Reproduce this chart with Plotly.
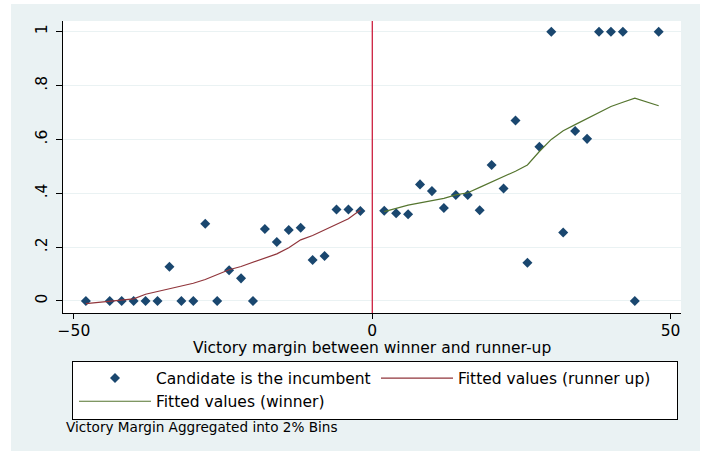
import plotly.graph_objects as go

# ---- data ----
bins_runner = [-48, -44, -42, -40, -38, -36, -34, -32, -30, -28, -26, -24,
               -22, -20, -18, -16, -14, -12, -10, -8, -6, -4, -2]
share_runner = [0.0, 0.0, 0.0, 0.0, 0.0, 0.0, 0.127, 0.0, 0.0, 0.287, 0.0, 0.114,
                0.084, 0.0, 0.267, 0.219, 0.264, 0.272, 0.152, 0.167, 0.340, 0.340, 0.334]
fit_runner = [-0.010, -0.002, 0.002, 0.008, 0.025, 0.035, 0.045, 0.055, 0.066, 0.080, 0.098, 0.116,
              0.128, 0.143, 0.158, 0.175, 0.198, 0.227, 0.243, 0.263, 0.283, 0.305, 0.338]

bins_winner = [2, 4, 6, 8, 10, 12, 14, 16, 18, 20, 22, 24, 26, 28, 30, 32, 34, 36,
               38, 40, 42, 44, 48]
share_winner = [0.335, 0.326, 0.322, 0.433, 0.408, 0.345, 0.394, 0.394, 0.337, 0.505,
                0.418, 0.670, 0.142, 0.573, 1.0, 0.254, 0.631, 0.602, 1.0, 1.0, 1.0, 0.0, 1.0]
fit_winner = [0.332, 0.345, 0.356, 0.364, 0.372, 0.381, 0.394, 0.402, 0.422, 0.442,
              0.461, 0.482, 0.505, 0.555, 0.600, 0.632, 0.655, 0.678, 0.700, 0.722, 0.738, 0.753, 0.725]

x_ticks = [-50, 0, 50]
y_ticks = [0, 0.2, 0.4, 0.6, 0.8, 1]
y_ticktext = ["0", ".2", ".4", ".6", ".8", "1"]

NAVY = "#1A476F"
MAROON = "#90353B"
GREEN = "#55752F"
BG = "#EAF2F3"
FONT = "DejaVu Sans"

fig = go.Figure()
fig.add_trace(go.Scatter(
    x=bins_runner + bins_winner, y=share_runner + share_winner,
    mode="markers", name="Candidate is the incumbent",
    marker=dict(symbol="diamond", size=7.7, color=NAVY, line=dict(width=0))))
fig.add_trace(go.Scatter(
    x=bins_runner, y=fit_runner, mode="lines", name="Fitted values (runner up)",
    line=dict(color=MAROON, width=1.2)))
fig.add_trace(go.Scatter(
    x=bins_winner, y=fit_winner, mode="lines", name="Fitted values (winner)",
    line=dict(color=GREEN, width=1.2)))

L, R, T, B = 63, 24, 21, 138
W, H = 705, 451
pw, ph = W - L - R, H - T - B
def px2x(px):
    return (px - L) / pw
def py2y(py):
    return (H - B - py) / ph

fig.update_layout(
    width=W, height=H,
    margin=dict(l=L, r=R, t=T, b=B, pad=0, autoexpand=False),
    paper_bgcolor="white", plot_bgcolor="white",
    font=dict(family=FONT, size=15.5, color="black"),
    showlegend=True,
    legend=dict(
        orientation="h", x=px2x(72), y=py2y(360.5), xanchor="left", yanchor="top",
        bordercolor="black", borderwidth=1, bgcolor="white",
        entrywidth=214, itemwidth=72, indentation=1,
        font=dict(family=FONT, size=15.5),
        traceorder="normal",
    ),
    xaxis=dict(
        range=[-51.84, 51.74], tickvals=x_ticks, ticks="outside", ticklen=5,
        tickcolor="black", showline=True, linecolor="black", linewidth=1,
        showgrid=False, zeroline=False, tickfont=dict(size=15.5),
        ticklabelstandoff=-2,
    ),
    yaxis=dict(
        range=[-0.0446, 1.0397], tickvals=y_ticks, ticktext=y_ticktext,
        tickangle=-90, ticks="outside", ticklen=6, tickcolor="black",
        showline=True, linecolor="black", linewidth=1, ticklabelstandoff=3,
        showgrid=True, gridcolor=BG, gridwidth=1, zeroline=False,
        tickfont=dict(size=15.5),
    ),
    shapes=[
        dict(type="rect", xref="paper", yref="paper", layer="below",
             x0=px2x(11), x1=px2x(700), y0=py2y(451), y1=py2y(4),
             fillcolor=BG, line=dict(width=0)),
        dict(type="rect", xref="paper", yref="paper", layer="below",
             x0=0, x1=1, y0=0, y1=1, fillcolor="white", line=dict(width=0)),
        dict(type="line", xref="x", yref="paper", x0=0, x1=0, y0=0, y1=1,
             line=dict(color="#CC1F3F", width=1.3)),
    ],
    annotations=[
        dict(text="Victory margin between winner and runner-up", xref="paper", yref="paper",
             x=0.5, y=py2y(348), xanchor="center", yanchor="middle", showarrow=False,
             font=dict(family=FONT, size=15.5, color="black")),
        dict(text="Victory Margin Aggregated into 2% Bins", xref="paper", yref="paper",
             x=px2x(64), y=py2y(427), xanchor="left", yanchor="middle", showarrow=False,
             font=dict(family=FONT, size=13.6, color="black")),
    ],
)

fig.write_html("out.html", config={"displayModeBar": False},
               post_script="document.body.style.margin='0';")
